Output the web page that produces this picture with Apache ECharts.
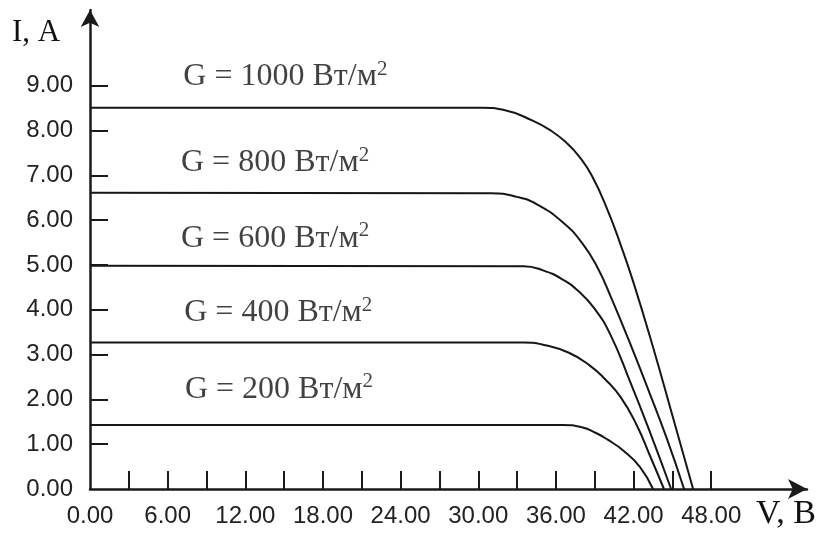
<!DOCTYPE html>
<html>
<head>
<meta charset="utf-8">
<script src="https://cdn.jsdelivr.net/npm/echarts@6/dist/echarts.min.js"></script>
<style>
html,body{margin:0;padding:0;background:#fff;}
#chart{width:822px;height:540px;}
</style>
</head>
<body>
<div id="chart"></div>
<script>
// ---- Data ----
const v1000 = [0, 30.3, 32.0, 34.2, 35.6, 36.8, 37.8, 38.8, 40.0, 41.0, 42.0, 43.5, 45.0, 46.6];
const i1000 = [8.51, 8.51, 8.46, 8.22, 8.00, 7.73, 7.42, 6.98, 6.22, 5.45, 4.60, 3.17, 1.64, 0];

const v800 = [0, 31.0, 33.0, 34.5, 36.5, 38.0, 39.2, 40.3, 41.7, 43.2, 44.6, 45.9];
const i800 = [6.61, 6.60, 6.52, 6.36, 5.96, 5.50, 4.95, 4.25, 3.27, 2.17, 1.10, 0];

const v600 = [0, 33.5, 35.0, 36.5, 37.8, 39.0, 40.2, 41.7, 43.2, 44.9];
const i600 = [4.98, 4.97, 4.88, 4.68, 4.40, 4.02, 3.45, 2.42, 1.32, 0];

const v400 = [0, 33.5, 35.0, 37.0, 38.6, 39.8, 41.0, 42.2, 43.3, 44.35];
const i400 = [3.27, 3.27, 3.22, 3.04, 2.76, 2.45, 2.05, 1.45, 0.72, 0];

const v200 = [0, 36.5, 38.0, 39.1, 40.0, 41.2, 42.5, 43.5];
const i200 = [1.43, 1.43, 1.38, 1.25, 1.10, 0.86, 0.49, 0];

const irradiance = [1000, 800, 600, 400, 200];
const xTickValues = [3, 6, 9, 12, 15, 18, 21, 24, 27, 30, 33, 36, 39, 42, 45, 48];
const xLabelValues = [0, 6, 12, 18, 24, 30, 36, 42, 48];
const yTickValues = [1, 2, 3, 4, 5, 6, 7, 8, 9];
const yLabelValues = [0, 1, 2, 3, 4, 5, 6, 7, 8, 9];

// annotation anchor points (data coordinates) for the G labels
const labelV = [15.1, 14.3, 14.3, 14.55, 14.6];
const labelI = [9.22, 7.30, 5.62, 3.95, 2.25];

// ---- Build ----
const curvesV = [v1000, v800, v600, v400, v200];
const curvesI = [i1000, i800, i600, i400, i200];

const serif = "'Liberation Serif','Times New Roman',serif";
const sans = "'Liberation Sans',Arial,sans-serif";

const series = curvesV.map((vs, k) => ({
  type: 'line',
  data: vs.map((v, j) => [v, curvesI[k][j]]),
  showSymbol: false,
  smooth: 0.5,
  lineStyle: {color: '#161616', width: 2},
  silent: true,
  z: 3
}));

series.push({
  type: 'scatter',
  symbolSize: 0,
  silent: true,
  z: 5,
  data: irradiance.map((g, k) => ({
    value: [labelV[k], labelI[k]],
    label: {
      show: true,
      position: 'inside',
      formatter: '{a|G = ' + g + ' Вт/м}{s|2}',
      backgroundColor: '#fff',
      padding: [2, 4],
      rich: {
        a: {fontFamily: serif, fontSize: 32, color: '#111', lineHeight: 34, verticalAlign: 'bottom'},
        s: {fontFamily: serif, fontSize: 21, color: '#111', lineHeight: 34, verticalAlign: 'top'}
      }
    }
  }))
});

const chart = echarts.init(document.getElementById('chart'), null, {renderer: 'canvas'});
chart.setOption({
  backgroundColor: '#fff',
  animation: false,
  grid: {left: 90, right: 15, top: 10, bottom: 51},
  xAxis: {
    type: 'value',
    min: 0,
    max: 55.4,
    interval: 3,
    splitLine: {show: false},
    axisLine: {show: true, onZero: false, symbol: ['none', 'arrow'], symbolSize: [15, 19],
      lineStyle: {color: '#1a1a1a', width: 2.5}},
    axisTick: {show: true, inside: true, length: 18, customValues: xTickValues,
      lineStyle: {color: '#1a1a1a', width: 2}},
    axisLabel: {show: true, customValues: xLabelValues, margin: 15,
      fontFamily: sans, fontSize: 24, color: '#222',
      formatter: v => v.toFixed(2)}
  },
  yAxis: {
    type: 'value',
    min: 0,
    max: 10.69,
    interval: 1,
    splitLine: {show: false},
    axisLine: {show: true, onZero: false, symbol: ['none', 'arrow'], symbolSize: [14, 17],
      lineStyle: {color: '#1a1a1a', width: 2.5}},
    axisTick: {show: true, inside: true, length: 18, customValues: yTickValues,
      lineStyle: {color: '#1a1a1a', width: 2}},
    axisLabel: {show: true, customValues: yLabelValues, margin: 17,
      fontFamily: sans, fontSize: 24, color: '#222',
      formatter: v => v.toFixed(2)}
  },
  graphic: [
    {type: 'text', left: 12, top: 17, style: {text: 'I, A', fontFamily: serif, fontSize: 31, fill: '#111'}},
    {type: 'text', left: 756, top: 497, style: {text: 'V, B', fontFamily: serif, fontSize: 34, fill: '#111'}}
  ],
  series: series
});
</script>
</body>
</html>
